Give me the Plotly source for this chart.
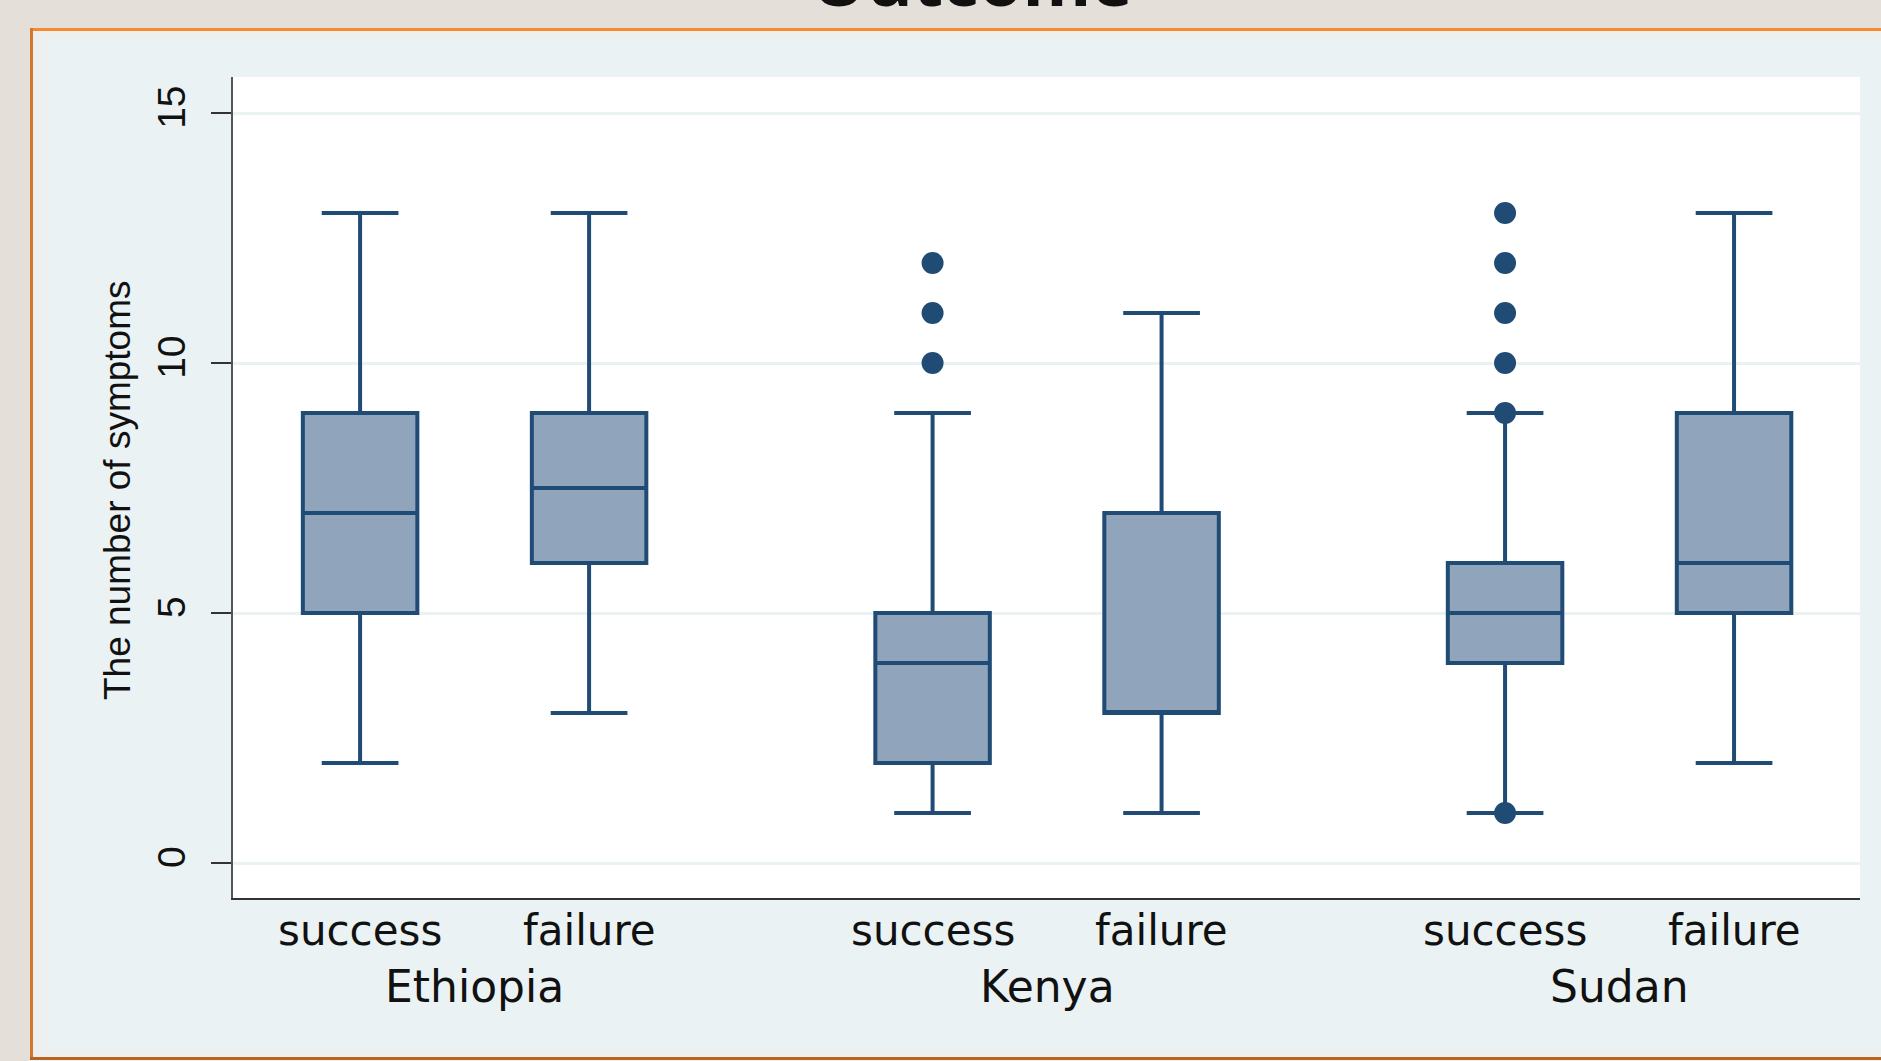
import plotly.graph_objects as go

# ---- data -------------------------------------------------------------
countries = ["Ethiopia", "Kenya", "Sudan"]
outcomes = ["success", "failure"]

# box statistics, ordered Ethiopia/success, Ethiopia/failure, Kenya/..., Sudan/...
lower_adj = [2, 3, 1, 1, 1, 2]
q1_vals = [5, 6, 2, 3, 4, 5]
median_vals = [7, 7.5, 4, 3, 5, 6]
q3_vals = [9, 9, 5, 7, 6, 9]
upper_adj = [13, 13, 9, 11, 9, 13]

# individually plotted observations (box index, value)
outlier_box = [2, 2, 2, 4, 4, 4, 4, 4, 4]
outlier_vals = [10, 11, 12, 1, 9, 10, 11, 12, 13]

y_ticks = [0, 5, 10, 15]

# ---- layout geometry ----------------------------------------------------
W, H = 1881, 1061
ML, MR, MT, MB = 233, 21, 77, 163
GROUP_GAP = 2.5


def fx(px):
    return (px - ML) / (W - ML - MR)


def fy(py):
    return (H - MB - py) / (H - MT - MB)


positions = []
for g in range(len(countries)):
    for k in range(len(outcomes)):
        positions.append(1 + g * GROUP_GAP + k)
group_centers = [1 + g * GROUP_GAP + 0.5 for g in range(len(countries))]

NAVY = "#1f4b75"
FILL = "#90a5bb"
LABEL_FONT = "DejaVu Sans, Liberation Sans, Arial, sans-serif"
AXIS_FONT = "Liberation Sans, Arial, sans-serif"

fig = go.Figure()

fig.add_trace(go.Box(
    x=positions,
    q1=q1_vals,
    median=median_vals,
    q3=q3_vals,
    lowerfence=lower_adj,
    upperfence=upper_adj,
    width=0.5,
    whiskerwidth=0.67,
    boxpoints=False,
    fillcolor=FILL,
    line=dict(color=NAVY, width=4),
    hoverinfo="skip",
    showlegend=False,
))

fig.add_trace(go.Scatter(
    x=[positions[i] for i in outlier_box],
    y=outlier_vals,
    mode="markers",
    marker=dict(size=22, color=NAVY, line=dict(width=0)),
    hoverinfo="skip",
    showlegend=False,
))

annotations = []
for i, p in enumerate(positions):
    annotations.append(dict(
        x=p, xref="x", y=fy(930), yref="paper",
        text=outcomes[i % len(outcomes)], showarrow=False,
        xanchor="center", yanchor="middle",
        font=dict(family=LABEL_FONT, size=42, color="#111111"),
    ))
for g, c in enumerate(group_centers):
    annotations.append(dict(
        x=c, xref="x", y=fy(986), yref="paper",
        text=countries[g], showarrow=False,
        xanchor="center", yanchor="middle",
        font=dict(family=LABEL_FONT, size=44, color="#111111"),
    ))
# y axis title
annotations.append(dict(
    x=fx(117), xref="paper", y=fy(490), yref="paper",
    text="The number of symptoms", textangle=-90, showarrow=False,
    xanchor="center", yanchor="middle",
    font=dict(family=AXIS_FONT, size=37, color="#111111"),
))
# slide heading, mostly above the visible area
annotations.append(dict(
    x=fx(972), xref="paper", y=fy(-21), yref="paper",
    text="Outcome", showarrow=False,
    xanchor="center", yanchor="middle",
    font=dict(family="Open Sans, sans-serif", size=70, color="#111111", weight="bold"),
))

shapes = [
    # warm grey slide background around the panel
    dict(type="rect", xref="paper", yref="paper", x0=fx(0), x1=fx(W + 5), y0=fy(-5), y1=fy(29),
         fillcolor="#e4e0d9", line=dict(width=0), layer="below"),
    dict(type="rect", xref="paper", yref="paper", x0=fx(-5), x1=fx(31), y0=fy(-5), y1=fy(H + 5),
         fillcolor="#e4e0d9", line=dict(width=0), layer="below"),
    # pale inner margin strips
    dict(type="rect", xref="paper", yref="paper", x0=fx(32), x1=fx(47), y0=fy(30), y1=fy(1057),
         fillcolor="#eeefef", line=dict(width=0), layer="below"),
    dict(type="rect", xref="paper", yref="paper", x0=fx(32), x1=fx(W + 5), y0=fy(30), y1=fy(40),
         fillcolor="#eeefef", line=dict(width=0), layer="below"),
    dict(type="rect", xref="paper", yref="paper", x0=fx(32), x1=fx(W + 5), y0=fy(1050), y1=fy(1057),
         fillcolor="#eeefef", line=dict(width=0), layer="below"),
    # orange panel border
    dict(type="line", xref="paper", yref="paper", x0=fx(30), x1=fx(W + 5), y0=fy(29.5), y1=fy(29.5),
         line=dict(color="#f58a2e", width=3), layer="below"),
    dict(type="line", xref="paper", yref="paper", x0=fx(31.5), x1=fx(31.5), y0=fy(28), y1=fy(1059),
         line=dict(color="#d4772c", width=3), layer="below"),
    dict(type="line", xref="paper", yref="paper", x0=fx(30), x1=fx(W + 5), y0=fy(1058.5), y1=fy(1058.5),
         line=dict(color="#b8641f", width=3), layer="below"),
]

fig.update_layout(
    width=W, height=H,
    margin=dict(l=ML, r=MR, t=MT, b=MB, pad=0),
    paper_bgcolor="#eaf2f4",
    plot_bgcolor="#ffffff",
    showlegend=False,
    annotations=annotations,
    shapes=shapes,
    xaxis=dict(
        range=[0.445, 7.55], showgrid=False, zeroline=False,
        showticklabels=False, ticks="",
        showline=True, linecolor="#333333", linewidth=2,
    ),
    yaxis=dict(
        range=[-0.7, 15.72], tickvals=y_ticks, ticktext=[str(v) for v in y_ticks],
        showgrid=True, gridcolor="#eaf2f3", gridwidth=3, zeroline=False,
        showline=True, linecolor="#555555", linewidth=2,
        ticks="outside", ticklen=20, tickwidth=2, tickcolor="#333333",
        tickangle=-90, ticklabelstandoff=10,
        tickfont=dict(family=AXIS_FONT, size=39, color="#111111"),
    ),
)

fig.write_html("out.html")
